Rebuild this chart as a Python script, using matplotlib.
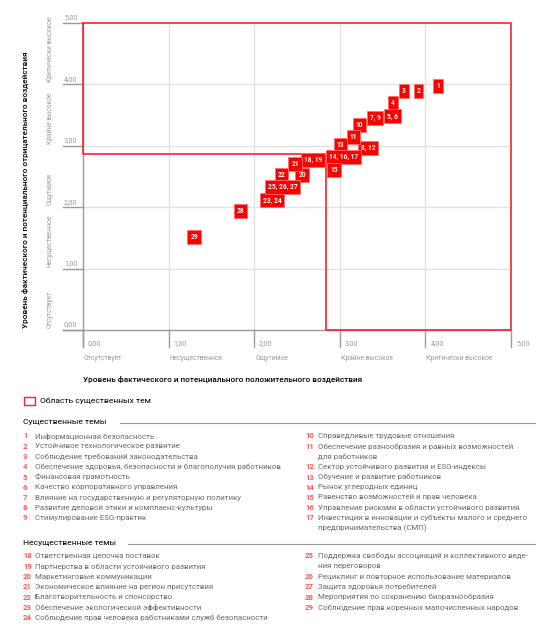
import matplotlib
matplotlib.use("Agg")
import matplotlib.pyplot as plt
from matplotlib.patches import Rectangle

plt.rcParams['font.family'] = ['Roboto', 'DejaVu Sans']

W, H = 550, 641

# --- data ---
point_labels = ["1", "2", "3", "4", "5, 6", "7, 9", "8, 12", "10", "11", "13",
                "14, 16, 17", "15", "18, 19", "20", "21", "22", "23, 24",
                "25, 26, 27", "28", "29"]
point_x = [4.15, 3.92, 3.75, 3.62, 3.61, 3.41, 3.33, 3.23, 3.16, 3.01,
           3.04, 2.93, 2.69, 2.56, 2.48, 2.32, 2.21, 2.33, 1.84, 1.30]
point_y = [3.98, 3.90, 3.90, 3.69, 3.48, 3.46, 2.96, 3.34, 3.15, 3.02,
           2.82, 2.60, 2.77, 2.53, 2.71, 2.53, 2.11, 2.33, 1.93, 1.51]

region_x = [0, 5, 5, 2.84, 2.84, 0, 0]
region_y = [5, 5, 0, 0, 2.86, 2.86, 5]

ticks = [0, 1, 2, 3, 4, 5]
tick_labels = ["0,00", "1,00", "2,00", "3,00", "4,00", "5,00"]
levels = ["Отсутствует", "Несущественное", "Ощутимое", "Крайне высокое", "Критически высокое"]

xlabel = "Уровень фактического и потенциального положительного воздействия"
ylabel = "Уровень фактического и потенциального отрицательного воздействия"

material_left = [
    ("1", "Информационная безопасность"),
    ("2", "Устойчивое технологическое развитие"),
    ("3", "Соблюдение требований законодательства"),
    ("4", "Обеспечение здоровья, безопасности и благополучия работников"),
    ("5", "Финансовая грамотность"),
    ("6", "Качество корпоративного управления"),
    ("7", "Влияние на государственную и регуляторную политику"),
    ("8", "Развитие деловой этики и комплаенс-культуры"),
    ("9", "Стимулирование ESG-практик"),
]
material_right = [
    ("10", "Справедливые трудовые отношения"),
    ("11", "Обеспечение разнообразия и равных возможностей"),
    ("", "для работников"),
    ("12", "Сектор устойчивого развития и ESG-индексы"),
    ("13", "Обучение и развитие работников"),
    ("14", "Рынок углеродных единиц"),
    ("15", "Равенство возможностей и прав человека"),
    ("16", "Управление рисками в области устойчивого развития"),
    ("17", "Инвестиции в инновации и субъекты малого и среднего"),
    ("", "предпринимательства (СМП)"),
]
minor_left = [
    ("18", "Ответственная цепочка поставок"),
    ("19", "Партнерства в области устойчивого развития"),
    ("20", "Маркетинговые коммуникации"),
    ("21", "Экономическое влияние на регион присутствия"),
    ("22", "Благотворительность и спонсорство"),
    ("23", "Обеспечение экологической эффективности"),
    ("24", "Соблюдение прав человека работниками служб безопасности"),
]
minor_right = [
    ("25", "Поддержка свободы ассоциаций и коллективного веде-"),
    ("", "ния переговоров"),
    ("26", "Рециклинг и повторное использование материалов"),
    ("27", "Защита здоровья потребителей"),
    ("28", "Мероприятия по сохранению биоразнообразия"),
    ("29", "Соблюдение прав коренных малочисленных народов"),
]

RED = "#f0262b"
GRAY = "#9a9a9a"
GRID = "#e2e2e2"
TXT = "#6a6a6a"
NUMRED = "#ff5a5a"

fig = plt.figure(figsize=(W / 100, H / 100), dpi=100)
ax = fig.add_axes([83 / W, 1 - 330 / H, 428 / W, 307 / H])
ax.set_xlim(0, 5)
ax.set_ylim(0, 5)
ax.axis("off")

px_x = 5 / 428   # data units per pixel
px_y = 5 / 307

# grid + ticks
for t in ticks[1:5]:
    ax.plot([t, t], [0, 5], color=GRID, lw=1, zorder=1)
    ax.plot([0, 5], [t, t], color=GRID, lw=1, zorder=1)
for t in ticks:
    ax.plot([t, t], [-17 * px_y, 0], color=GRAY, lw=1, clip_on=False, zorder=2)
    ax.plot([-20 * px_x, 0], [t, t], color=GRAY, lw=1, clip_on=False, zorder=2)
ax.plot([0, 0], [-17 * px_y, 5], color=GRAY, lw=1, clip_on=False, zorder=2)
ax.plot([-20 * px_x, 5], [0, 0], color=GRAY, lw=1, clip_on=False, zorder=2)

for t, lab in zip(ticks, tick_labels):
    ax.annotate(lab, (t, 0), xytext=(5, -14), textcoords="offset pixels",
                fontsize=5.2, color=GRAY, ha="left", va="center", annotation_clip=False)
    ax.annotate(lab, (0, t), xytext=(-19, 5), textcoords="offset pixels",
                fontsize=5.2, color=GRAY, ha="left", va="center", annotation_clip=False)

# level names start at their gridline on both axes
for i, lev in enumerate(levels):
    ax.annotate(lev, (i, 0), xytext=(1, -28), textcoords="offset pixels",
                fontsize=4.9, color=GRAY, ha="left", va="center", annotation_clip=False)
    ax.annotate(lev, (0, i), xytext=(-33, 2), textcoords="offset pixels",
                fontsize=4.8, color=GRAY, ha="center", va="bottom", rotation=90,
                annotation_clip=False)

# material area
ax.plot(region_x, region_y, color=RED, lw=1.2, clip_on=False, zorder=3)

# topic boxes
for lab, x, y in zip(point_labels, point_x, point_y):
    ax.text(x, y, lab, fontsize=4.8, color="white", fontweight="bold",
            ha="center", va="center", zorder=5,
            bbox=dict(boxstyle="square,pad=0.45", fc="#ff0000", ec="#ff7070", lw=0.6))

fig.text(83 / W, 1 - 379 / H, xlabel, fontsize=5.9, color="black",
         ha="left", va="center", fontweight="medium")
fig.text(25 / W, 1 - 190 / H, ylabel, fontsize=5.9, color="black",
         ha="center", va="center", rotation=90, fontweight="medium")

# legend
fig.patches.append(Rectangle((24 / W, 1 - 405 / H), 11 / W, 8 / H, transform=fig.transFigure,
                             fill=False, ec=RED, lw=1))
fig.text(40 / W, 1 - 401 / H, "Область существенных тем", fontsize=6.1, color="black",
         ha="left", va="center")


def header(text, y, x_line):
    fig.text(23 / W, 1 - y / H, text, fontsize=6.1, color="black", ha="left", va="center")
    fig.add_artist(plt.Line2D([x_line / W, 535 / W], [1 - (y + 1) / H] * 2,
                              color=GRAY, lw=0.8, transform=fig.transFigure))


def topic_list(rows, x_num, x_txt, y0, step=10.25):
    for i, (num, txt) in enumerate(rows):
        y = 1 - (y0 + i * step) / H
        if num:
            fig.text(x_num / W, y, num, fontsize=5.6, color=NUMRED, ha="left", va="center",
                     fontweight="bold")
        fig.text(x_txt / W, y, txt, fontsize=5.7, color=TXT, ha="left", va="center")


header("Существенные темы", 422, 120)
topic_list(material_left, 23, 35, 436)
topic_list(material_right, 305, 318, 436)
header("Несущественные темы", 543, 128)
topic_list(minor_left, 23, 35, 556)
topic_list(minor_right, 305, 318, 556)

fig.savefig("out.png", dpi=100)
